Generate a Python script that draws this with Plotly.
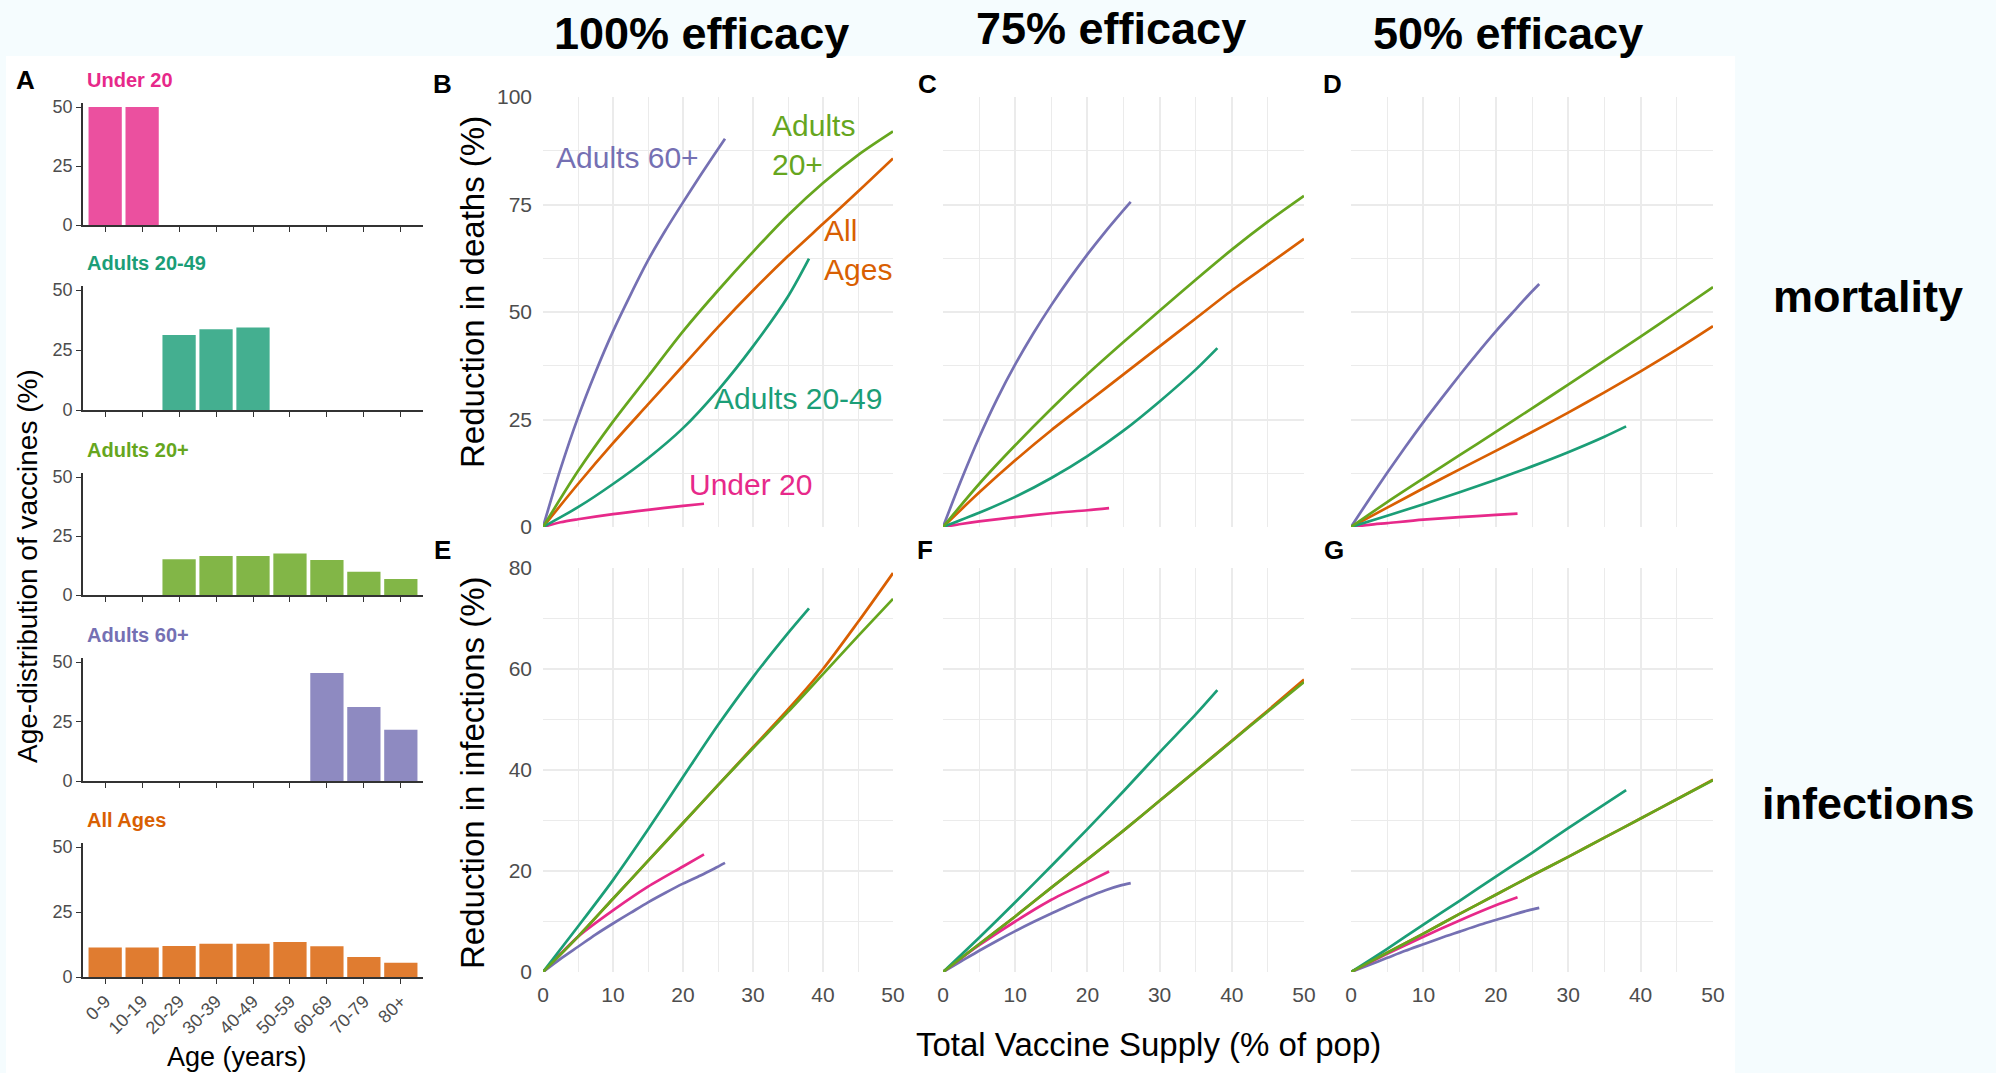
import plotly.graph_objects as go

# ---------------- data ----------------
age_groups = ["0-9", "10-19", "20-29", "30-39", "40-49", "50-59", "60-69", "70-79", "80+"]

# age distribution of vaccines (%) for each allocation strategy
dist_under20 = [50, 50, 0, 0, 0, 0, 0, 0, 0]
dist_adults2049 = [0, 0, 31.2, 33.6, 34.4, 0, 0, 0, 0]
dist_adults20p = [0, 0, 15.1, 16.5, 16.5, 17.6, 14.8, 9.9, 6.8]
dist_adults60p = [0, 0, 0, 0, 0, 0, 45.4, 31.1, 21.5]
dist_allages = [11.3, 11.3, 11.9, 12.8, 12.8, 13.5, 11.8, 7.7, 5.5]

# total vaccine supply (% of pop) at which each curve is read
supply_under20 = [0, 2.5, 5, 10, 15, 20, 23]
supply_adults2049 = [0, 5, 10, 15, 20, 25, 30, 35, 38]
supply_adults20p = [0, 5, 10, 15, 20, 25, 30, 35, 40, 45, 50]
supply_adults60p = [0, 2.5, 5, 7.5, 10, 12.5, 15, 17.5, 20, 22.5, 24.5, 26]
supply_allages = [0, 5, 10, 15, 20, 25, 30, 35, 40, 45, 50]

# reduction in deaths (%) -- 100%, 75%, 50% efficacy
deaths100_under20 = [0, 1.1, 1.8, 3.0, 4.0, 4.9, 5.4]
deaths100_adults2049 = [0, 4.6, 10.0, 16.0, 23.0, 31.8, 42.0, 53.6, 62.4]
deaths100_adults20p = [0, 13, 24.5, 35, 45.5, 55, 64, 72.5, 80, 86.5, 92]
deaths100_adults60p = [0, 13.5, 25.5, 36, 45.5, 54, 62, 69, 75.5, 81.8, 86.7, 90.3]
deaths100_allages = [0, 10, 19.5, 28.5, 37.5, 46.5, 55, 63, 70.5, 78, 85.7]

deaths75_under20 = [0, 0.7, 1.3, 2.3, 3.2, 3.9, 4.4]
deaths75_adults2049 = [0, 3.3, 7.0, 11.4, 16.5, 22.4, 29.2, 36.6, 41.6]
deaths75_adults20p = [0, 10, 19, 27.5, 35.5, 43, 50.3, 57.5, 64.5, 71, 77]
deaths75_adults60p = [0, 10.8, 20.8, 29.8, 37.8, 45, 51.6, 57.7, 63.4, 68.7, 72.7, 75.6]
deaths75_allages = [0, 8, 15.5, 22.5, 29, 35.5, 42, 48.5, 55, 61, 67]

deaths50_under20 = [0, 0.5, 0.9, 1.7, 2.3, 2.8, 3.1]
deaths50_adults2049 = [0, 2.6, 5.3, 8.1, 11.0, 14.1, 17.4, 21.0, 23.4]
deaths50_adults20p = [0, 5.8, 11.3, 16.7, 22.1, 27.6, 33.1, 38.7, 44.3, 50.0, 55.8]
deaths50_adults60p = [0, 6.4, 12.6, 18.6, 24.4, 29.9, 35.3, 40.5, 45.5, 50.2, 53.9, 56.5]
deaths50_allages = [0, 4.5, 9.0, 13.4, 17.7, 22.1, 26.6, 31.3, 36.2, 41.3, 46.7]

# reduction in infections (%) -- 100%, 75%, 50% efficacy
inf100_under20 = [0, 3.6, 7.0, 12.2, 16.9, 20.9, 23.3]
inf100_adults2049 = [0, 9.0, 18.2, 28.2, 38.6, 48.9, 58.4, 67.1, 72]
inf100_adults20p = [0, 7, 14.5, 22, 29.5, 37, 44.3, 51.5, 59, 66.5, 73.9]
inf100_adults60p = [0, 2.6, 5, 7.4, 9.6, 11.7, 13.8, 15.7, 17.5, 19.1, 20.5, 21.6]
inf100_allages = [0, 7, 14.5, 22, 29.5, 37, 44.5, 52, 60, 69.3, 79]

inf75_under20 = [0, 2.7, 5.3, 10, 14.3, 17.8, 19.9]
inf75_adults2049 = [0, 6.8, 13.8, 21, 28.3, 35.8, 43.5, 51, 55.8]
inf75_adults20p = [0, 5.5, 11, 16.7, 22.3, 28, 33.9, 39.8, 45.7, 51.6, 57.4]
inf75_adults60p = [0, 2.1, 4.2, 6.2, 8.1, 9.9, 11.6, 13.2, 14.8, 16.2, 17.1, 17.6]
inf75_allages = [0, 5.5, 11, 16.7, 22.3, 28, 33.9, 39.8, 45.8, 51.8, 57.9]

inf50_under20 = [0, 1.8, 3.6, 7.0, 10.2, 13.2, 14.8]
inf50_adults2049 = [0, 4.6, 9.4, 14.1, 18.9, 23.6, 28.5, 33.2, 36]
inf50_adults20p = [0, 3.8, 7.6, 11.5, 15.3, 19.1, 22.8, 26.6, 30.4, 34.2, 38]
inf50_adults60p = [0, 1.4, 2.8, 4.2, 5.5, 6.8, 8.0, 9.2, 10.3, 11.4, 12.2, 12.7]
inf50_allages = [0, 3.8, 7.6, 11.5, 15.3, 19.1, 22.8, 26.6, 30.4, 34.2, 38.1]

# ---------------- style ----------------
W, H = 1996, 1073
FONT = "Liberation Sans, Arial, sans-serif"
C_PINK = "#E7298A"
C_TEAL = "#1B9E77"
C_GREEN = "#66A61E"
C_PURPLE = "#7570B3"
C_ORANGE = "#D95F02"
BAR_ALPHA = 0.82
GRID = "#EBEBEB"
TICKGRAY = "#4D4D4D"
AXISDARK = "#333333"


def px(x):
    return x / W


def py(y):
    return 1 - y / H


fig = go.Figure()
layout = dict(
    width=W, height=H, autosize=False,
    margin=dict(l=0, r=0, t=0, b=0, pad=0, autoexpand=False),
    paper_bgcolor="#F5FCFE",
    plot_bgcolor="white",
    showlegend=False,
    font=dict(family=FONT, color="black"),
)
annotations = []
# white canvas behind the panels (row labels and column titles sit outside it)
shapes = [dict(type="rect", xref="paper", yref="paper", x0=px(6), x1=px(1735), y0=0, y1=py(56),
               fillcolor="white", line=dict(width=0), layer="below")]

# ---------------- panel A: bar charts ----------------
bar_panels = [
    ("Under 20", dist_under20, C_PINK, 225, 107),
    ("Adults 20-49", dist_adults2049, C_TEAL, 410, 290),
    ("Adults 20+", dist_adults20p, C_GREEN, 595, 477),
    ("Adults 60+", dist_adults60p, C_PURPLE, 781, 662),
    ("All Ages", dist_allages, C_ORANGE, 977, 847),
]
Y_TOP = 51.5
for i, (name, vals, col, y0px, y50px) in enumerate(bar_panels, start=1):
    scale = (y0px - y50px) / 50.0
    top_px = y0px - Y_TOP * scale
    xa, ya = f"x{i}", f"y{i}"
    fig.add_trace(go.Bar(x=age_groups, y=vals, width=0.9,
                         marker=dict(color=col, opacity=BAR_ALPHA, line=dict(width=0)),
                         xaxis=xa, yaxis=ya, hoverinfo="skip"))
    last = i == len(bar_panels)
    layout[f"xaxis{i}"] = dict(
        domain=[px(83), px(423)], anchor=ya, type="category", categoryarray=age_groups,
        range=[-0.6, 8.6], showgrid=False, zeroline=False, automargin=False,
        showline=True, linecolor=AXISDARK, linewidth=1.6,
        ticks="outside", ticklen=5, tickwidth=1.3, tickcolor=AXISDARK,
        showticklabels=last, tickangle=-45,
        tickfont=dict(size=18, color=TICKGRAY, family=FONT),
    )
    layout[f"yaxis{i}"] = dict(
        domain=[py(y0px), py(top_px)], anchor=xa, range=[0, Y_TOP], automargin=False,
        tickvals=[0, 25, 50], showgrid=False, zeroline=False,
        showline=True, linecolor=AXISDARK, linewidth=1.6,
        ticks="outside", ticklen=5, tickwidth=1.3, tickcolor=AXISDARK,
        tickfont=dict(size=18, color=TICKGRAY, family=FONT),
    )
    annotations.append(dict(text=f"<b>{name}</b>", x=px(85), y=py(y50px - 27), xref="paper", yref="paper",
                            xanchor="left", yanchor="middle", showarrow=False,
                            font=dict(size=20, color=col, family=FONT)))

annotations.append(dict(text="Age-distribution of vaccines (%)", x=px(27), y=py(566), xref="paper", yref="paper",
                        textangle=-90, showarrow=False, xanchor="center", yanchor="middle",
                        font=dict(size=28, color="black", family=FONT)))
annotations.append(dict(text="Age (years)", x=px(237), y=py(1057), xref="paper", yref="paper",
                        showarrow=False, xanchor="center", yanchor="middle",
                        font=dict(size=27, color="black", family=FONT)))

# ---------------- panels B-G: line charts ----------------
col_x = [(543, 893), (943, 1304), (1351, 1713)]
row_y = [(527, 97), (972, 568)]

groups = [
    ("All Ages", supply_allages, C_ORANGE),
    ("Adults 60+", supply_adults60p, C_PURPLE),
    ("Under 20", supply_under20, C_PINK),
    ("Adults 20-49", supply_adults2049, C_TEAL),
    ("Adults 20+", supply_adults20p, C_GREEN),
]
panel_values = [
    [deaths100_allages, deaths100_adults60p, deaths100_under20, deaths100_adults2049, deaths100_adults20p],
    [deaths75_allages, deaths75_adults60p, deaths75_under20, deaths75_adults2049, deaths75_adults20p],
    [deaths50_allages, deaths50_adults60p, deaths50_under20, deaths50_adults2049, deaths50_adults20p],
    [inf100_allages, inf100_adults60p, inf100_under20, inf100_adults2049, inf100_adults20p],
    [inf75_allages, inf75_adults60p, inf75_under20, inf75_adults2049, inf75_adults20p],
    [inf50_allages, inf50_adults60p, inf50_under20, inf50_adults2049, inf50_adults20p],
]

ax = 6
for r in range(2):
    for c in range(3):
        vals = panel_values[r * 3 + c]
        xa, ya = f"x{ax}", f"y{ax}"
        for (name, xs, col), ys in zip(groups, vals):
            fig.add_trace(go.Scatter(x=xs, y=ys, mode="lines",
                                     line=dict(color=col, width=2.7, shape="spline", smoothing=0.8),
                                     xaxis=xa, yaxis=ya, name=name, hoverinfo="skip"))
        layout[f"xaxis{ax}"] = dict(
            domain=[px(col_x[c][0]), px(col_x[c][1])], anchor=ya, range=[0, 50], automargin=False,
            tickvals=[0, 10, 20, 30, 40, 50], showgrid=True, gridcolor=GRID, gridwidth=1.8,
            minor=dict(dtick=5, tick0=0, showgrid=True, gridcolor=GRID, gridwidth=1.0),
            zeroline=False, showline=False, ticks="",
            showticklabels=(r == 1), ticklabelstandoff=8,
            tickfont=dict(size=21, color=TICKGRAY, family=FONT),
        )
        if r == 0:
            yrange, ytv, ymin = [0, 100], [0, 25, 50, 75, 100], 12.5
        else:
            yrange, ytv, ymin = [0, 80], [0, 20, 40, 60, 80], 10
        layout[f"yaxis{ax}"] = dict(
            domain=[py(row_y[r][0]), py(row_y[r][1])], anchor=xa, range=yrange, automargin=False,
            tickvals=ytv, showgrid=True, gridcolor=GRID, gridwidth=1.8,
            minor=dict(dtick=ymin, tick0=0, showgrid=True, gridcolor=GRID, gridwidth=1.0),
            zeroline=False, showline=False, ticks="",
            showticklabels=(c == 0), ticklabelstandoff=10,
            tickfont=dict(size=21, color=TICKGRAY, family=FONT),
        )
        ax += 1

# panel letters
for letter, lx, ly in [("A", 25, 80), ("B", 442, 84), ("C", 927, 84), ("D", 1332, 84),
                       ("E", 442, 550), ("F", 925, 550), ("G", 1334, 550)]:
    annotations.append(dict(text=f"<b>{letter}</b>", x=px(lx), y=py(ly), xref="paper", yref="paper",
                            showarrow=False, xanchor="center", yanchor="middle",
                            font=dict(size=26, color="black", family=FONT)))

# curve labels in panel B
for text, lx, ly, col, anchor in [
    ("Adults 60+", 627, 157, C_PURPLE, "center"),
    ("Adults<br>20+", 770, 145, C_GREEN, "left"),
    ("All<br>Ages", 822, 250, C_ORANGE, "left"),
    ("Adults 20-49", 798, 399, C_TEAL, "center"),
    ("Under 20", 750, 484, C_PINK, "center"),
]:
    annotations.append(dict(text=text, x=px(lx), y=py(ly), xref="paper", yref="paper", showarrow=False,
                            xanchor=anchor, yanchor="middle", align="left",
                            font=dict(size=30, color=col, family=FONT)))

# axis titles
annotations.append(dict(text="Reduction in deaths (%)", x=px(472), y=py(292), xref="paper", yref="paper",
                        textangle=-90, showarrow=False, xanchor="center", yanchor="middle",
                        font=dict(size=33, color="black", family=FONT)))
annotations.append(dict(text="Reduction in infections (%)", x=px(472), y=py(773), xref="paper", yref="paper",
                        textangle=-90, showarrow=False, xanchor="center", yanchor="middle",
                        font=dict(size=33, color="black", family=FONT)))
annotations.append(dict(text="Total Vaccine Supply (% of pop)", x=px(1148), y=py(1044), xref="paper", yref="paper",
                        showarrow=False, xanchor="center", yanchor="middle",
                        font=dict(size=33, color="black", family=FONT)))

# column and row headings
for text, lx, ly in [("100% efficacy", 701, 33), ("75% efficacy", 1111, 29), ("50% efficacy", 1508, 33),
                     ("mortality", 1868, 296), ("infections", 1868, 803)]:
    annotations.append(dict(text=f"<b>{text}</b>", x=px(lx), y=py(ly), xref="paper", yref="paper",
                            showarrow=False, xanchor="center", yanchor="middle",
                            font=dict(size=45, color="black", family=FONT)))

layout["annotations"] = annotations
layout["shapes"] = shapes
fig.update_layout(**layout)
fig.write_html("out.html")
